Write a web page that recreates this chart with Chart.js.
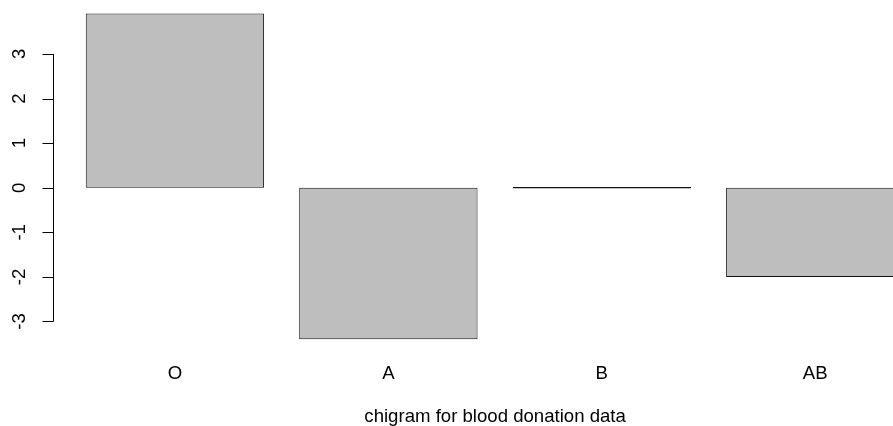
<!DOCTYPE html>
<html>
<head>
<meta charset="utf-8">
<script src="https://cdn.jsdelivr.net/npm/chart.js@4/dist/chart.umd.min.js"></script>
<style>
  html, body { margin: 0; padding: 0; background: #ffffff; overflow: hidden; width: 893px; height: 426px; }
  #wrap { position: absolute; left: 0; top: 0; width: 922px; height: 426px; }
</style>
</head>
<body>
<div id="wrap"><canvas id="c" width="922" height="426"></canvas></div>
<script>
const categories = ["O", "A", "B", "AB"];
const residuals = [3.91, -3.40, 0, -2.00];
const yTickValues = [-3, -2, -1, 0, 1, 2, 3];
const xTitle = "chigram for blood donation data";

const FONT = "'Liberation Sans', Arial, Helvetica, sans-serif";

const rAxisPlugin = {
  id: 'rAxis',
  afterDraw(chart) {
    const ys = chart.scales.y;
    const ctx = chart.ctx;
    const xLine = 53;
    const tickLen = 11;
    ctx.save();
    ctx.strokeStyle = '#000';
    ctx.lineWidth = 1;
    ctx.beginPath();
    const top = ys.getPixelForValue(yTickValues[yTickValues.length - 1]);
    const bot = ys.getPixelForValue(yTickValues[0]);
    ctx.moveTo(xLine + 0.5, top);
    ctx.lineTo(xLine + 0.5, bot);
    yTickValues.forEach(v => {
      const p = Math.round(ys.getPixelForValue(v)) + 0.5;
      ctx.moveTo(xLine + 0.5, p);
      ctx.lineTo(xLine + 0.5 - tickLen, p);
    });
    ctx.stroke();
    ctx.restore();
  }
};

new Chart(document.getElementById('c'), {
  type: 'bar',
  data: {
    labels: categories,
    datasets: [{
      data: residuals,
      backgroundColor: '#bebebe',
      borderColor: '#111111',
      borderWidth: 1,
      borderSkipped: false,
      minBarLength: 1.5,
      barPercentage: 0.8355,
      categoryPercentage: 1.0
    }]
  },
  options: {
    responsive: false,
    animation: false,
    devicePixelRatio: 1,
    layout: { padding: 0 },
    plugins: {
      legend: { display: false },
      tooltip: { enabled: false },
      title: { display: false }
    },
    scales: {
      x: {
        grid: { display: false, drawTicks: false },
        border: { display: false },
        ticks: {
          color: '#000',
          font: { family: FONT, size: 18.6 },
          padding: 10,
          maxRotation: 0,
          minRotation: 0
        },
        title: {
          display: true,
          text: xTitle,
          color: '#000',
          font: { family: FONT, size: 18.6, lineHeight: 1.0 },
          padding: { top: 0, bottom: 0 }
        },
        afterFit(s) { s.height = 73.3; s.paddingLeft = 0; s.paddingRight = 0; }
      },
      y: {
        min: -3.70,
        max: 4.21,
        grid: { display: false, drawTicks: false },
        border: { display: false },
        afterBuildTicks(s) { s.ticks = yTickValues.map(v => ({ value: v })); },
        ticks: {
          color: '#000',
          font: { family: FONT, size: 18.6 },
          autoSkip: false,
          minRotation: 90,
          maxRotation: 90,
          crossAlign: 'center',
          padding: 40
        },
        afterFit(s) { s.width = 68.2; s.paddingTop = 0; s.paddingBottom = 0; }
      }
    }
  },
  plugins: [rAxisPlugin]
});
</script>
</body>
</html>
